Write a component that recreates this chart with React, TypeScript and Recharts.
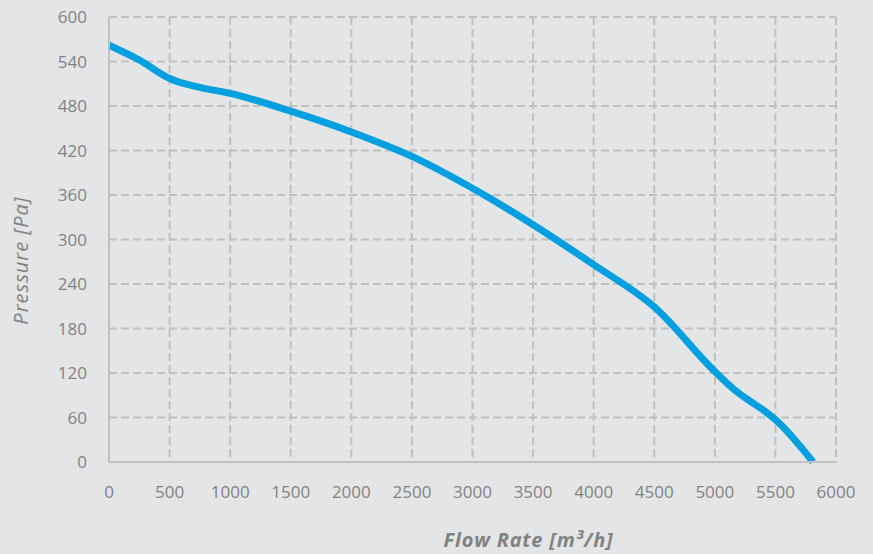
import React from 'react';
import { LineChart, Line, XAxis, YAxis, CartesianGrid, Label } from 'recharts';

// Fan curve: flow rate (m³/h) vs static pressure (Pa)
const flowRates = [0, 250, 500, 750, 1000, 1500, 2000, 2500, 3000, 3500, 4000, 4500, 5000, 5150, 5300, 5400, 5500, 5810];
const pressures = [562, 542, 517, 505, 497, 473, 445, 412, 369, 320, 266, 209, 122, 99, 81, 70, 57, 0];

const xTicks = [0, 500, 1000, 1500, 2000, 2500, 3000, 3500, 4000, 4500, 5000, 5500, 6000];
const yTicks = [0, 60, 120, 180, 240, 300, 360, 420, 480, 540, 600];

const data = flowRates.map((q, i) => ({ q, p: pressures[i] }));

const GRID = '#C0C0C0';
const TEXT = '#828282';
const FONT = '"Open Sans", "Noto Sans", sans-serif';

export default function App() {
  return (
    <div style={{ position: 'absolute', left: 0, top: 0, width: 873, height: 554, background: '#E4E5E7' }}>
      <LineChart
        width={873}
        height={554}
        data={data}
        margin={{ top: 17, right: 37, left: 0, bottom: 0 }}
      >
        <CartesianGrid stroke={GRID} strokeWidth={2} strokeDasharray="8 4" />
        <XAxis
          dataKey="q"
          type="number"
          domain={[0, 6000]}
          ticks={xTicks}
          height={92}
          tickLine={false}
          tickSize={0}
          tickMargin={24}
          axisLine={{ stroke: GRID, strokeWidth: 2 }}
          tick={{ fill: TEXT, fontSize: 17, fontFamily: FONT }}
        >
          <Label
            content={({ viewBox }: any) => (
              <text
                x={viewBox.x + viewBox.width / 2 + 56}
                y={547}
                textAnchor="middle"
                fill={TEXT}
                fontSize={20}
                fontWeight="bold"
                fontStyle="italic"
                letterSpacing={0.8}
                fontFamily={FONT}
              >
                Flow Rate [m³/h]
              </text>
            )}
          />
        </XAxis>
        <YAxis
          type="number"
          domain={[0, 600]}
          ticks={yTicks}
          width={109}
          tickLine={false}
          tickSize={0}
          tickMargin={22}
          axisLine={{ stroke: GRID, strokeWidth: 2 }}
          tick={{ fill: TEXT, fontSize: 17, fontFamily: FONT }}
        >
          <Label
            content={({ viewBox }: any) => {
              const cy = viewBox.y + viewBox.height / 2 + 21;
              return (
                <text
                  x={28}
                  y={cy}
                  transform={`rotate(-90, 28, ${cy})`}
                  textAnchor="middle"
                  fill={TEXT}
                  fontSize={20}
                  fontStyle="italic"
                  letterSpacing={1}
                  fontFamily={FONT}
                >
                  Pressure [Pa]
                </text>
              );
            }}
          />
        </YAxis>
        <Line
          type="monotone"
          dataKey="p"
          stroke="#009FDF"
          strokeWidth={7}
          dot={false}
          isAnimationActive={false}
        />
      </LineChart>
    </div>
  );
}
